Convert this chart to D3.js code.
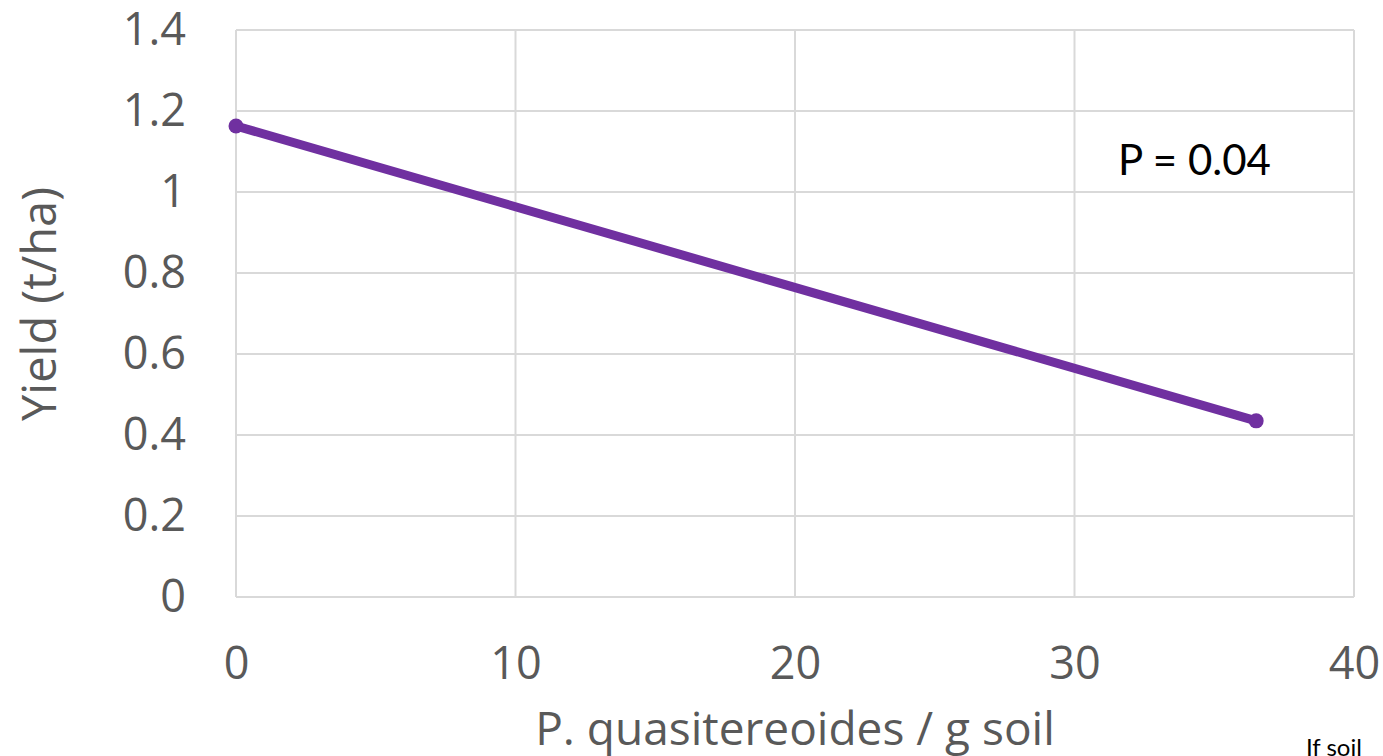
<!DOCTYPE html>
<html>
<head>
<meta charset="utf-8">
<script src="https://cdn.jsdelivr.net/npm/d3@7"></script>
<style>
  html, body { margin: 0; padding: 0; background: #fff; }
  svg { display: block; }
</style>
</head>
<body>
<svg id="chart" width="1383" height="756"></svg>
<script>
// Fitted yield response line (start and end points)
const density = [0, 36.5];
const yieldTHa = [1.163, 0.435];
const xTicks = [0, 10, 20, 30, 40];
const yTicks = [0, 0.2, 0.4, 0.6, 0.8, 1, 1.2, 1.4];
const pLabel = "P = 0.04";

const svg = d3.select("#chart");
const plotL = 236, plotR = 1354, plotT = 30, plotB = 597;

const x = d3.scaleLinear().domain([0, 40]).range([plotL, plotR]);
const y = d3.scaleLinear().domain([0, 1.4]).range([plotB, plotT]);

const tickFont = "'Open Sans', sans-serif";

// Gridlines
const grid = svg.append("g");
grid.selectAll("line.h").data(yTicks).join("line")
  .attr("x1", plotL).attr("x2", plotR)
  .attr("y1", d => y(d)).attr("y2", d => y(d))
  .attr("stroke", "#d9d9d9").attr("stroke-width", 2);
grid.selectAll("line.v").data(xTicks).join("line")
  .attr("y1", plotT).attr("y2", plotB)
  .attr("x1", d => x(d)).attr("x2", d => x(d))
  .attr("stroke", "#d9d9d9").attr("stroke-width", 2);

// Axes (labels only)
const yAxis = svg.append("g")
  .attr("transform", `translate(${plotL},0)`)
  .call(d3.axisLeft(y).tickValues(yTicks).tickSize(0).tickPadding(50).tickFormat(d3.format("~g")));
yAxis.select(".domain").remove();
yAxis.selectAll("text")
  .attr("font-family", tickFont).attr("font-size", 45).attr("fill", "#595959");

const xAxis = svg.append("g")
  .attr("transform", `translate(0,${plotB})`)
  .call(d3.axisBottom(x).tickValues(xTicks).tickSize(0).tickPadding(50).tickFormat(d3.format("~g")));
xAxis.select(".domain").remove();
xAxis.selectAll("text")
  .attr("font-family", tickFont).attr("font-size", 45).attr("fill", "#595959");

// Axis titles
svg.append("text")
  .attr("transform", `translate(56,304) rotate(-90)`)
  .attr("text-anchor", "middle")
  .attr("font-family", tickFont).attr("font-size", 47).attr("fill", "#595959")
  .text("Yield (t/ha)");

svg.append("text")
  .attr("x", 795).attr("y", 745)
  .attr("text-anchor", "middle")
  .attr("font-family", tickFont).attr("font-size", 46).attr("fill", "#595959")
  .text("P. quasitereoides / g soil");

// Series line and markers
const pts = density.map((d, i) => [d, yieldTHa[i]]);
svg.append("path")
  .datum(pts)
  .attr("d", d3.line().x(d => x(d[0])).y(d => y(d[1])))
  .attr("fill", "none").attr("stroke", "#7030a0").attr("stroke-width", 9)
  .attr("stroke-linecap", "round");
svg.selectAll("circle.pt").data(pts).join("circle")
  .attr("cx", d => x(d[0])).attr("cy", d => y(d[1])).attr("r", 7.5)
  .attr("fill", "#7030a0");

// Significance annotation
svg.append("text")
  .attr("x", 1118).attr("y", 175)
  .attr("font-family", "Lato, sans-serif").attr("font-size", 42).attr("fill", "#000")
  .text(pLabel);

// Footnote fragment at lower right
svg.append("text")
  .attr("x", 1306).attr("y", 756)
  .attr("font-family", "Lato, sans-serif").attr("font-size", 24).attr("fill", "#000")
  .text("If soil");
</script>
</body>
</html>
